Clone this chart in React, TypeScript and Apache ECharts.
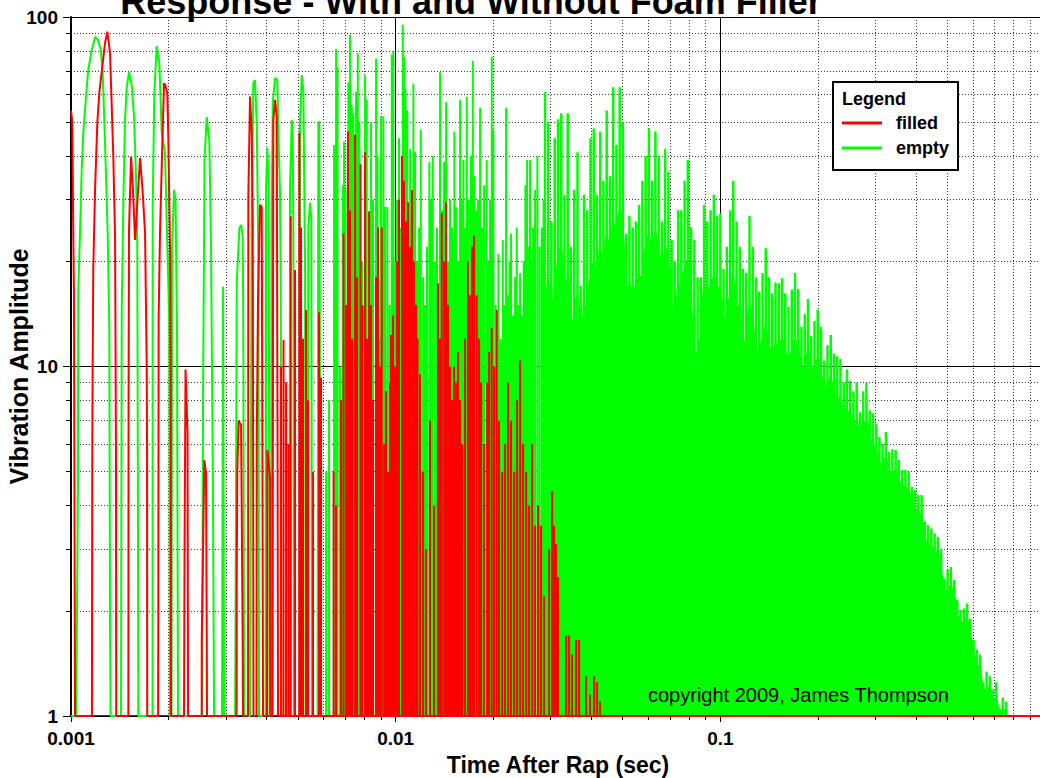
import React, { useEffect, useRef } from 'react';
import * as echarts from 'echarts';

const FONT = '"Liberation Sans", Arial, Helvetica, sans-serif';

const TITLE = 'Response - With and Without Foam Filler';
const X_NAME = 'Time After Rap (sec)';
const Y_NAME = 'Vibration Amplitude';
const COPYRIGHT = 'copyright 2009, James Thompson';
const SERIES_NAMES = ['filled', 'empty'];

// minor grid positions (2..9 of each decade)
const X_MINOR = [0.002, 0.003, 0.004, 0.005, 0.006, 0.007, 0.008, 0.009,
  0.02, 0.03, 0.04, 0.05, 0.06, 0.07, 0.08, 0.09,
  0.2, 0.3, 0.4, 0.5, 0.6, 0.7, 0.8, 0.9];
const Y_MINOR = [2, 3, 4, 5, 6, 7, 8, 9, 20, 30, 40, 50, 60, 70, 80, 90];

// "filled" (red): early ringing humps, traced as [time, amplitude]
const filledEarly = [
  [0.001, 54], [0.001009, 50], [0.001016, 24.6], [0.001021, 16.5], [0.001029, 1],
  [0.00116, 1], [0.001163, 5.8], [0.001166, 10], [0.001171, 18.9], [0.001186, 32], [0.001205, 49.7], [0.001223, 61.1], [0.001252, 73.7], [0.001273, 84.2], [0.001294, 90.8], [0.001319, 78.9], [0.001335, 55.4], [0.00135, 39.8], [0.001367, 23.3], [0.001376, 5.2], [0.001378, 1],
  [0.001502, 1], [0.001504, 7.4], [0.001509, 24.6], [0.001531, 39.8], [0.001552, 32], [0.001575, 23], [0.001603, 30], [0.001632, 39.5], [0.001661, 32], [0.001691, 24.1], [0.001711, 10], [0.001715, 5.7], [0.001717, 1],
  [0.001855, 1], [0.001857, 1.9], [0.001862, 13.9], [0.00188, 24.1], [0.001903, 37.3], [0.001934, 64.6], [0.001952, 63.9], [0.00198, 60.5], [0.001994, 45.4], [0.002018, 22], [0.002028, 10], [0.002033, 1],
  [0.002229, 1], [0.002237, 2.85], [0.002253, 9.8], [0.002269, 8], [0.002285, 6.45], [0.002294, 1],
  [0.002527, 1], [0.002528, 1.65], [0.002556, 3.4], [0.002574, 5.4], [0.002605, 4.96], [0.002618, 1.85], [0.002624, 1],
  [0.003236, 1], [0.00324, 2.67], [0.003254, 5.06], [0.003282, 7], [0.003341, 6.8], [0.003376, 1.85], [0.003388, 1],
  [0.00351, 1], [0.003512, 1.7], [0.003517, 30.6], [0.00356, 59.2], [0.003603, 46.6], [0.003629, 26.3], [0.003649, 1],
  [0.003728, 1], [0.003733, 5.95], [0.003767, 15.5], [0.003821, 29], [0.003868, 28.6], [0.00389, 4.15], [0.003904, 1],
  [0.004016, 1], [0.004025, 5.77], [0.004103, 4.83], [0.004111, 1],
  [0.004176, 1], [0.004191, 15.5], [0.0042, 50.7], [0.004251, 57.9], [0.004302, 51.9], [0.004327, 5.77], [0.004342, 1],
];

// "filled" (red): later narrow peaks [time, peak amplitude]
const filledPeaks = [
  [0.004436, 10], [0.004515, 11.9], [0.004596, 9], [0.004672, 6], [0.004751, 26.9], [0.004898, 18.9], [0.00505, 46.6], [0.005111, 25], [0.005184, 12], [0.005297, 14.5], [0.005372, 8], [0.005566, 5], [0.005808, 14.3], [0.005891, 9.3], [0.006438, 5], [0.006554, 4],
  [0.006789, 8], [0.00691, 24], [0.007034, 15], [0.007135, 47], [0.007236, 28], [0.00734, 12], [0.007498, 46], [0.007606, 18], [0.007795, 38], [0.007907, 15], [0.008049, 41], [0.008164, 12], [0.008282, 27.8], [0.0084, 15], [0.00852, 8], [0.008702, 18], [0.008828, 25], [0.008952, 10], [0.009062, 25], [0.009212, 6], [0.009342, 8.5], [0.009477, 5], [0.009612, 9], [0.009679, 12.3], [0.009818, 14], [0.009956, 10],
  [0.0101, 20], [0.01024, 30], [0.01046, 40], [0.01061, 34], [0.01076, 26], [0.01092, 29.5], [0.01108, 22], [0.01123, 32], [0.0114, 20], [0.01156, 15], [0.01168, 12],
  [0.01189, 9.5], [0.01215, 5], [0.01241, 3], [0.01276, 7], [0.01313, 4],
  [0.01351, 17.3], [0.0137, 12], [0.01387, 27.5], [0.0141, 20], [0.0143, 29.5], [0.0145, 15], [0.01471, 10],
  [0.01492, 8], [0.01513, 10], [0.01535, 9], [0.01557, 11], [0.01579, 8], [0.01602, 6],
  [0.01636, 12], [0.01671, 20], [0.01695, 16], [0.0172, 22], [0.01744, 23.7], [0.01778, 16], [0.01807, 12], [0.01833, 9],
  [0.01872, 6], [0.01913, 9], [0.0194, 11], [0.01977, 12.9], [0.0201, 10], [0.02048, 14.5], [0.02082, 7], [0.02127, 5],
  [0.02173, 6], [0.0222, 9], [0.02267, 7], [0.02316, 5], [0.02366, 8], [0.02417, 10.4], [0.02469, 6], [0.02522, 5], [0.02576, 4], [0.02632, 6], [0.02688, 3.5], [0.02746, 4],
  [0.02805, 3.5], [0.02866, 2.2], [0.02969, 3], [0.03033, 4.4], [0.03076, 3.5], [0.0312, 3.1], [0.03165, 2.5], [0.0335, 1.7], [0.03421, 1.7], [0.03495, 1.5], [0.03596, 1.65], [0.03673, 1.65], [0.0386, 1.3], [0.0397, 1.15], [0.04085, 1.3], [0.04173, 1.25], [0.04262, 1.1],
];
const filledEnd = [[1, 1]];

// "empty" (green): early ringing humps [time, amplitude]
const emptyEarly = [
  [0.001, 1], [0.001036, 1], [0.001044, 2.1], [0.001051, 5], [0.001053, 16.5], [0.001071, 28], [0.001079, 37], [0.001091, 46.6], [0.001112, 59], [0.00113, 70.5], [0.001158, 80.5], [0.001186, 87.7], [0.001211, 86], [0.001235, 80.5], [0.001252, 69], [0.001273, 43.6], [0.001298, 23.5], [0.001312, 13], [0.001319, 1.8], [0.001324, 1],
  [0.001426, 1], [0.001433, 14.5], [0.001449, 29], [0.001467, 50.7], [0.001485, 63], [0.001509, 69.6], [0.001538, 63.9], [0.001564, 51.7], [0.001586, 34.8], [0.0016, 22.3], [0.001608, 3.57], [0.001612, 1],
  [0.001783, 1], [0.001785, 28.6], [0.001805, 59.8], [0.001836, 82.6], [0.001871, 73.9], [0.001903, 46.6], [0.001948, 40.8], [0.001971, 26.3], [0.002008, 13.3], [0.002018, 1],
  [0.00204, 1], [0.002047, 21.5], [0.002076, 32], [0.002099, 30], [0.002121, 12.7], [0.002136, 1],
  [0.002533, 1], [0.002551, 8], [0.002578, 39], [0.002618, 51.7], [0.002667, 44.5], [0.0027, 21.5], [0.002738, 4.15], [0.002758, 1],
  [0.002919, 1], [0.00294, 16.9], [0.002961, 1],
  [0.003202, 1], [0.003213, 1.9], [0.00324, 17.3], [0.003301, 24.9], [0.003341, 25.4], [0.003381, 23.5], [0.003396, 10.9], [0.003413, 1],
  [0.00356, 1], [0.003603, 26.3], [0.003644, 64.7], [0.003688, 66], [0.003733, 49.7], [0.003776, 21.1], [0.003794, 1],
  [0.003974, 1], [0.003988, 32.6], [0.004025, 42.2], [0.004065, 32], [0.004088, 1],
  [0.004132, 1], [0.004152, 26.3], [0.004182, 56.7], [0.004251, 66.9], [0.004321, 66], [0.004351, 46.6], [0.004404, 31.4], [0.004426, 16.9], [0.004451, 1],
  [0.004711, 1], [0.004728, 32.6], [0.004785, 50.7], [0.004819, 46], [0.00484, 25.1], [0.004864, 1],
  [0.005058, 1], [0.005076, 50.7], [0.005138, 68.2], [0.005197, 61.8], [0.00526, 18.9], [0.005278, 1],
  [0.005354, 1], [0.005384, 25.1], [0.005449, 29.4], [0.0055, 26.3], [0.005527, 1],
  [0.005747, 1], [0.005779, 49.7], [0.00582, 50.2], [0.00587, 1],
];

// "empty" (green): narrow peaks [time, peak amplitude]
const emptyPeaks = [
  [0.006104, 5], [0.006235, 8], [0.006461, 43], [0.006554, 81], [0.006622, 72], [0.006741, 10], [0.006871, 33], [0.006934, 44], [0.00701, 32], [0.00715, 65], [0.007236, 89], [0.007325, 56], [0.007408, 53], [0.007551, 61], [0.007644, 79], [0.007731, 50], [0.00788, 20], [0.008049, 68], [0.008146, 58], [0.008282, 15], [0.0084, 50], [0.00852, 30], [0.008702, 76], [0.008795, 40], [0.008889, 12], [0.009016, 52], [0.009165, 52], [0.009276, 28.6], [0.009429, 28.6], [0.009578, 15], [0.009728, 78], [0.009838, 80], [0.009956, 20],
  [0.0101, 30], [0.01024, 45], [0.01035, 25], [0.01052, 95], [0.01061, 77], [0.01073, 62], [0.01086, 54], [0.01108, 42], [0.01119, 30], [0.01134, 64.5], [0.01148, 41], [0.01164, 20], [0.01181, 25], [0.01195, 47.5], [0.01215, 18], [0.01232, 15], [0.01249, 22], [0.0127, 38.5], [0.01286, 30], [0.01301, 40], [0.01323, 20], [0.01341, 25], [0.0137, 69.5], [0.0139, 28], [0.0141, 38.5], [0.0143, 57], [0.0145, 20], [0.01471, 30], [0.01492, 25], [0.01516, 47], [0.01535, 28.6], [0.01557, 20], [0.01579, 58], [0.01598, 30], [0.01617, 39], [0.01636, 25], [0.01656, 59], [0.01677, 30], [0.01704, 40], [0.01728, 75], [0.0175, 35], [0.01775, 28], [0.01794, 30], [0.0182, 55], [0.01846, 25], [0.01872, 33], [0.01908, 39], [0.01933, 20], [0.01953, 30], [0.01977, 77], [0.02, 47.5], [0.02032, 15], [0.02072, 21], [0.02105, 12], [0.02138, 23], [0.02165, 15], [0.02188, 55], [0.0222, 16], [0.02243, 20], [0.02267, 24], [0.023, 14], [0.02333, 18], [0.02361, 25], [0.02391, 15], [0.02417, 18.5], [0.02451, 14], [0.02481, 20], [0.0251, 33], [0.0254, 39], [0.02567, 22], [0.02594, 39], [0.02622, 20], [0.0265, 25], [0.02688, 32], [0.02732, 40], [0.02775, 22], [0.02819, 25], [0.02855, 30],
];

// "empty" (green): dense decay, [time, peak, trough below peak]
const emptyDense = [
  [0.02884, 61, 12], [0.02951, 50, 18], [0.0302, 26, 14], [0.0309, 45, 16], [0.03162, 51, 20], [0.03236, 53, 22], [0.03311, 31, 15], [0.03388, 53, 18], [0.03467, 22, 12], [0.03548, 32, 14],
  [0.03631, 41, 16], [0.03715, 17, 10], [0.03802, 31, 15], [0.0389, 28, 14], [0.03981, 45, 18], [0.04074, 48, 20], [0.04169, 31, 17], [0.04266, 47, 22], [0.04365, 34, 18], [0.04467, 54, 24],
  [0.04571, 35, 19], [0.04677, 63, 26], [0.04786, 43, 22], [0.04898, 63, 28], [0.05012, 50, 24], [0.05129, 24, 15], [0.05248, 27, 17], [0.0537, 25, 16], [0.05495, 26, 17], [0.05623, 29, 18],
  [0.05754, 34, 18], [0.05888, 40, 22], [0.06026, 48, 24], [0.06166, 34, 20], [0.0631, 47, 24], [0.06457, 40, 22], [0.06607, 26, 16], [0.06761, 42, 22], [0.06918, 36, 20], [0.07079, 23, 15],
  [0.07244, 20, 12], [0.07413, 28, 17], [0.07586, 28, 17], [0.07762, 34, 19], [0.07943, 39, 20], [0.08128, 25, 15], [0.08318, 23, 10], [0.08511, 18, 11], [0.0871, 18, 12], [0.08913, 29, 17],
  [0.0912, 26, 16], [0.09333, 28, 17], [0.0955, 31, 18], [0.09772, 27, 17],
  [0.1, 27.4, 16], [0.1023, 19, 13], [0.1047, 22, 14], [0.1072, 28, 16], [0.1096, 34, 18], [0.1122, 26, 15], [0.1148, 22, 14], [0.1175, 19, 12], [0.1202, 18.5, 11], [0.123, 27, 15],
  [0.1259, 22, 13], [0.1288, 18, 11], [0.1318, 16.4, 10.5], [0.1349, 18.5, 12], [0.138, 21.8, 13], [0.1413, 18, 11.5], [0.1445, 16.2, 10.5], [0.1479, 17.4, 11.5], [0.1514, 17.3, 11.5], [0.1549, 17.9, 12],
  [0.1585, 16.2, 11], [0.1622, 14.8, 10], [0.166, 16.6, 11], [0.1698, 18.5, 12], [0.1738, 16.7, 11], [0.1778, 13, 9.5], [0.182, 14.1, 10], [0.1862, 15.6, 11], [0.1905, 12.2, 9], [0.195, 13.5, 10],
  [0.1995, 14.5, 10.5], [0.2042, 13, 9.5], [0.2089, 10.4, 8], [0.2138, 11.5, 8.8], [0.2188, 12.3, 9.2], [0.2239, 10.9, 8.3], [0.2291, 10.7, 8.2], [0.2344, 10.5, 8], [0.2399, 9, 7], [0.2455, 9.8, 7.5],
  [0.2512, 9.1, 7.2], [0.257, 8.5, 6.8], [0.263, 9, 7], [0.2692, 7.4, 6], [0.2754, 8.5, 6.8], [0.2818, 9, 7], [0.2884, 7.5, 6.2], [0.2951, 7.35, 6], [0.302, 6.87, 5.7], [0.309, 6.28, 5.3],
  [0.3162, 6.0, 5.2], [0.3236, 6.5, 5.5], [0.3311, 5.7, 4.9], [0.3388, 5.8, 5], [0.3467, 5.77, 5], [0.3548, 5.4, 4.7], [0.3631, 5.06, 4.5], [0.3715, 5.06, 4.5], [0.3802, 5.0, 4.4], [0.389, 4.53, 4],
  [0.3981, 4.43, 3.9], [0.4074, 4.29, 3.8], [0.4169, 4.29, 3.7], [0.4266, 3.6, 3.2], [0.4365, 3.52, 3.1], [0.4467, 3.44, 3.05], [0.4571, 3.33, 2.95], [0.4677, 3.26, 2.9], [0.4786, 2.98, 2.6], [0.4898, 2.48, 2.2],
  [0.5012, 2.62, 2.3], [0.5129, 2.67, 2.35], [0.5248, 2.45, 2.2], [0.537, 2.15, 1.95], [0.5495, 2.01, 1.85], [0.5623, 2.03, 1.85], [0.5754, 2.1, 1.9], [0.5888, 1.9, 1.7], [0.6026, 1.65, 1.5], [0.6166, 1.55, 1.4],
  [0.631, 1.5, 1.35], [0.6457, 1.25, 1.15], [0.6607, 1.34, 1.2], [0.6761, 1.3, 1.2], [0.6918, 1.19, 1.1], [0.7079, 1.25, 1.12], [0.7244, 1.05, 1], [0.7413, 1.13, 1.05], [0.7586, 1.1, 1], [0.7762, 1, 1],
];

const RED = '#ff0000';
const GREEN = '#00ff00';

function peaksToLine(list: number[][]) {
  const out: number[][] = [];
  for (const [t, v] of list) {
    out.push([t, 1], [t, v], [t, 1]);
  }
  return out;
}

function denseToLine(list: number[][]) {
  const out: number[][] = [[list[0][0], 1]];
  for (const [t, p, tr] of list) {
    out.push([t, tr], [t, p], [t, tr]);
  }
  out.push([list[list.length - 1][0], 1]);
  return out;
}

export default function App() {
  const ref = useRef<HTMLDivElement>(null);

  useEffect(() => {
    if (!ref.current) return;
    const chart = echarts.init(ref.current, undefined, { renderer: 'svg' });

    const labelStyle = { fontFamily: FONT, fontSize: 19, fontWeight: 'bold' as const, color: '#000' };
    const dotted = { color: '#333', width: 1, type: [1, 2] as any };

    const option: any = {
      animation: false,
      backgroundColor: '#fff',
      textStyle: { fontFamily: FONT },
      grid: { left: 71, top: 17, width: 974, height: 699, containLabel: false, outerBoundsMode: 'none' },
      xAxis: [
        {
          type: 'log', logBase: 10, min: 0.001, max: 1, position: 'bottom',
          name: X_NAME, nameLocation: 'middle', nameGap: 37,
          nameTextStyle: { fontFamily: FONT, fontSize: 23, fontWeight: 'bold', color: '#000' },
          axisLine: { show: true, lineStyle: { color: '#000', width: 1.5 } },
          axisTick: { show: true, inside: false, length: 6, lineStyle: { color: '#000', width: 1 } },
          axisLabel: { ...labelStyle, margin: 13 },
          splitLine: { show: true, lineStyle: { color: '#000', width: 1 } },
          z: 1,
        },
        {
          type: 'log', logBase: 10, min: 0.001, max: 1, position: 'bottom',
          axisLine: { show: false },
          axisTick: { show: true, inside: false, length: 4, customValues: X_MINOR, lineStyle: { color: '#000', width: 1 } },
          axisLabel: { show: false },
          splitLine: { show: true, lineStyle: dotted },
          z: 0,
        },
      ],
      yAxis: [
        {
          type: 'log', logBase: 10, min: 1, max: 100, position: 'left',
          name: Y_NAME, nameLocation: 'middle', nameGap: 40, nameRotate: 90, nameMoveOverlap: false,
          nameTextStyle: { fontFamily: FONT, fontSize: 25, fontWeight: 'bold', color: '#000' },
          axisLine: { show: true, lineStyle: { color: '#000', width: 2 } },
          axisTick: { show: true, inside: false, length: 8, lineStyle: { color: '#000', width: 1 } },
          axisLabel: { ...labelStyle, margin: 13 },
          splitLine: { show: true, lineStyle: { color: '#000', width: 1 } },
          z: 1,
        },
        {
          type: 'log', logBase: 10, min: 1, max: 100, position: 'left',
          axisLine: { show: false },
          axisTick: { show: true, inside: false, length: 5, customValues: Y_MINOR, lineStyle: { color: '#000', width: 1 } },
          axisLabel: { show: false },
          splitLine: { show: true, lineStyle: dotted },
          z: 0,
        },
      ],
      legend: {
        data: SERIES_NAMES,
        orient: 'vertical',
        left: 833,
        top: 82,
        padding: [32, 9, 13, 9],
        itemWidth: 40,
        itemHeight: 3,
        itemGap: 7,
        icon: 'rect',
        selectedMode: false,
        backgroundColor: '#fff',
        borderColor: '#000',
        borderWidth: 2,
        textStyle: { fontFamily: FONT, fontSize: 18, fontWeight: 'bold', color: '#000', padding: [0, 0, 0, 9] },
        z: 10,
      },
      graphic: [
        {
          type: 'text', x: 471, y: 1, z: 100,
          style: { text: TITLE, font: `bold 36px ${FONT}`, fill: '#000', textAlign: 'center', textVerticalAlign: 'middle' },
        },
        {
          type: 'text', x: 648, y: 695, z: 100,
          style: { text: COPYRIGHT, font: `20px ${FONT}`, fill: '#000', textAlign: 'left', textVerticalAlign: 'middle' },
        },
        {
          type: 'text', x: 842, y: 99, z: 100,
          style: { text: 'Legend', font: `bold 18px ${FONT}`, fill: '#000', textAlign: 'left', textVerticalAlign: 'middle' },
        },
      ],
      series: [
        {
          name: 'empty', type: 'line', xAxisIndex: 0, yAxisIndex: 0,
          data: emptyEarly.concat(peaksToLine(emptyPeaks)),
          showSymbol: false, symbol: 'none', silent: true, z: 2,
          lineStyle: { color: GREEN, width: 2 }, itemStyle: { color: GREEN },
        },
        {
          name: 'empty', type: 'line', xAxisIndex: 0, yAxisIndex: 0,
          data: denseToLine(emptyDense),
          showSymbol: false, symbol: 'none', silent: true, z: 2,
          lineStyle: { color: GREEN, width: 2.5 }, itemStyle: { color: GREEN },
          areaStyle: { color: GREEN, opacity: 1, origin: 1 },
        },
        {
          name: 'filled', type: 'line', xAxisIndex: 0, yAxisIndex: 0,
          data: filledEarly.concat(peaksToLine(filledPeaks), filledEnd),
          showSymbol: false, symbol: 'none', silent: true, z: 3,
          lineStyle: { color: RED, width: 2 }, itemStyle: { color: RED },
        },
      ],
    };

    chart.setOption(option);
    return () => chart.dispose();
  }, []);

  return (
    <div style={{ position: 'absolute', left: 0, top: 0, width: 1040, height: 778, overflow: 'hidden', background: '#fff' }}>
      <div ref={ref} style={{ width: 1040, height: 778 }} />
    </div>
  );
}
